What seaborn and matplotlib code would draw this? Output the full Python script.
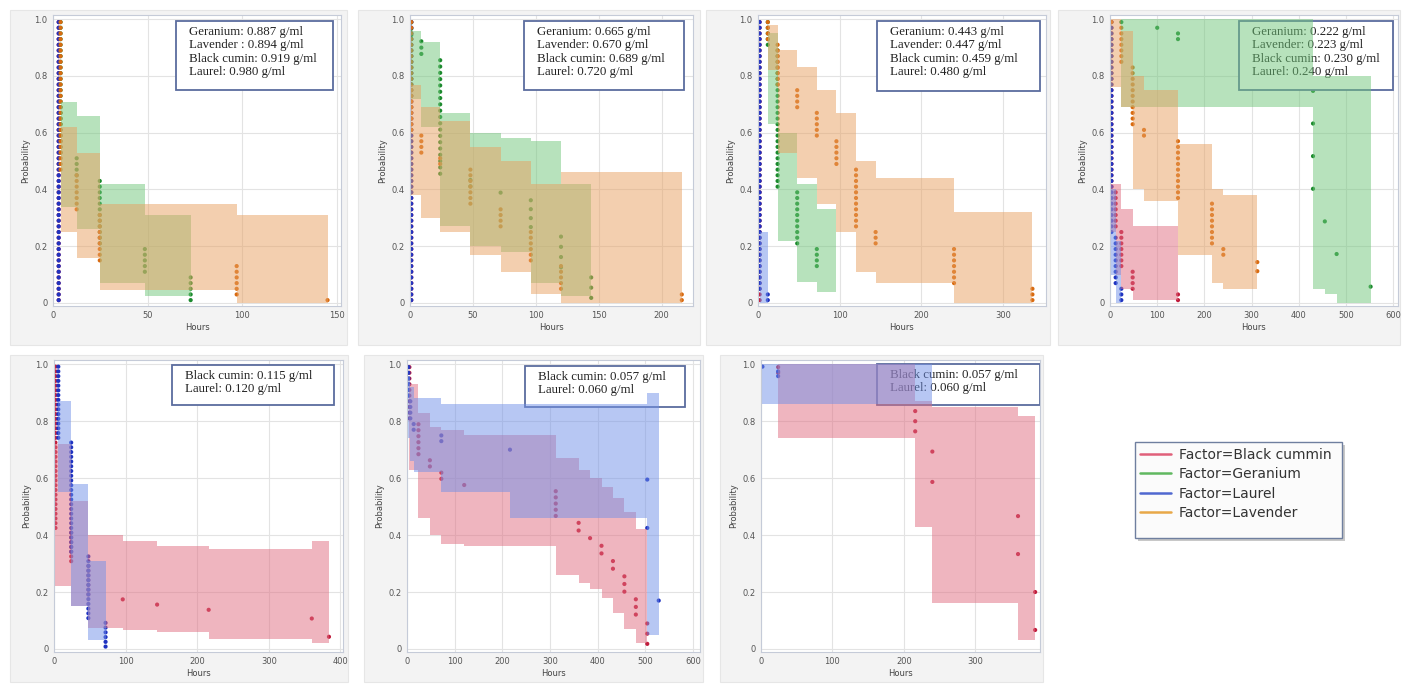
import numpy as np
import pandas as pd
import matplotlib
matplotlib.use("Agg")
import matplotlib.pyplot as plt
import seaborn as sns
from matplotlib.patches import Rectangle
from matplotlib.lines import Line2D

W, H = 1402, 685

FACTORS = ["Black cummin", "Geranium", "Laurel", "Lavender"]
DOT_COLORS = {"Black cummin": "#c01c3c", "Geranium": "#1c8a2e", "Laurel": "#1f33c0", "Lavender": "#d86a10"}
BAND_COLORS = {"Black cummin": "#e06c80", "Geranium": "#70c67a", "Laurel": "#7090e8", "Lavender": "#e8a060"}
LEGEND_COLORS = {"Black cummin": "#e0607a", "Geranium": "#60b860", "Laurel": "#5068d0", "Lavender": "#e8a848"}

# ---- panel 1 (0.887 - 0.980 g/ml) ----
p1_bc_t, p1_bc_risk, p1_bc_died, p1_bc_lo, p1_bc_hi = [3], [50], [50], [0], [0]
p1_lau_t, p1_lau_risk, p1_lau_died, p1_lau_lo, p1_lau_hi = [3], [50], [50], [0], [0]
p1_lav_t = [4, 12.5, 24.7, 97, 145]
p1_lav_risk = [50, 23, 16, 7, 1]
p1_lav_died = [27, 7, 9, 6, 1]
p1_lav_lo = [0.25, 0.16, 0.045, 0.0, 0]
p1_lav_hi = [0.62, 0.53, 0.35, 0.31, 0]
p1_ger_t = [4, 12.5, 24.7, 48.5, 72.7]
p1_ger_risk = [50, 26, 22, 10, 5]
p1_ger_died = [24, 4, 12, 5, 5]
p1_ger_lo = [0.34, 0.26, 0.07, 0.025, 0]
p1_ger_hi = [0.71, 0.66, 0.42, 0.31, 0]

# ---- panel 2 (0.665 - 0.720 g/ml) ----
p2_bc_t, p2_bc_risk, p2_bc_died, p2_bc_lo, p2_bc_hi = [1], [50], [50], [0], [0]
p2_lau_t, p2_lau_risk, p2_lau_died, p2_lau_lo, p2_lau_hi = [1], [50], [50], [0], [0]
p2_lav_t = [1, 9, 24, 48, 72, 96, 120, 216]
p2_lav_risk = [50, 30, 26, 24, 17, 13, 7, 2]
p2_lav_died = [20, 4, 2, 7, 4, 6, 5, 2]
p2_lav_lo = [0.38, 0.30, 0.25, 0.17, 0.11, 0.03, 0.0, 0]
p2_lav_hi = [0.77, 0.69, 0.64, 0.55, 0.50, 0.42, 0.46, 0]
p2_ger_t = [1, 9, 24, 48, 72, 96, 120, 144]
p2_ger_risk = [45, 42, 39, 20, 18, 12, 7, 3]
p2_ger_died = [3, 3, 19, 2, 1, 4, 4, 3]
p2_ger_lo = [0.72, 0.62, 0.27, 0.20, 0.18, 0.07, 0.025, 0]
p2_ger_hi = [0.96, 0.92, 0.67, 0.60, 0.58, 0.57, 0.42, 0]

# ---- panel 3 (0.443 - 0.480 g/ml) ----
p3_bc_t, p3_bc_risk, p3_bc_died, p3_bc_lo, p3_bc_hi = [2], [50], [50], [0], [0]
p3_lau_t, p3_lau_risk, p3_lau_died = [2, 12], [50, 2], [48, 2]
p3_lau_lo, p3_lau_hi = [0.0, 0], [0.25, 0]
p3_lav_t = [12, 24, 48, 72, 96, 120, 144, 240, 336]
p3_lav_risk = [50, 46, 38, 34, 29, 24, 13, 10, 3]
p3_lav_died = [4, 8, 4, 5, 5, 11, 3, 7, 3]
p3_lav_lo = [0.82, 0.53, 0.44, 0.35, 0.25, 0.11, 0.07, 0.0, 0]
p3_lav_hi = [0.98, 0.89, 0.83, 0.75, 0.67, 0.50, 0.44, 0.32, 0]
p3_ger_t = [12, 24, 48, 72]
p3_ger_risk = [50, 45, 20, 10]
p3_ger_died = [5, 25, 10, 4]
p3_ger_lo = [0.63, 0.22, 0.075, 0.04]
p3_ger_hi = [0.95, 0.60, 0.42, 0.33]
p3_ger_end = 96

# ---- panel 4 (0.222 - 0.240 g/ml) ----
p4_lau_t, p4_lau_risk, p4_lau_died = [3, 12, 24], [50, 12, 3], [38, 9, 3]
p4_lau_lo, p4_lau_hi = [0.10, 0.0, 0], [0.40, 0.22, 0]
p4_bc_t = [3, 12, 24, 48, 144]
p4_bc_risk = [50, 20, 13, 6, 2]
p4_bc_died = [30, 7, 7, 4, 2]
p4_bc_lo = [0.25, 0.10, 0.05, 0.01, 0]
p4_bc_hi = [0.42, 0.42, 0.33, 0.27, 0]
p4_lav_t = [3, 24, 48, 72, 144, 216, 240, 312]
p4_lav_risk = [50, 49, 42, 31, 29, 18, 10, 5]
p4_lav_died = [1, 7, 11, 2, 11, 8, 2, 2]
p4_lav_lo = [0.76, 0.69, 0.40, 0.36, 0.17, 0.07, 0.05, 0]
p4_lav_hi = [1.0, 0.96, 0.80, 0.75, 0.56, 0.40, 0.38, 0]
p4_lav_end = 312
p4_ger_t = [24, 100, 144, 430, 455, 480, 552]
p4_ger_risk = [50, 49, 48, 8, 3, 2, 1]
p4_ger_died = [1, 1, 2, 5, 1, 1, 1]
p4_ger_lo = [0.69, 0.69, 0.69, 0.05, 0.03, 0.0, 0]
p4_ger_hi = [1.0, 1.0, 1.0, 0.80, 0.80, 0.80, 0]

# ---- panel 5 (0.115 - 0.120 g/ml) ----
p5_lau_t = [6, 24, 48, 72]
p5_lau_risk = [60, 44, 20, 6]
p5_lau_died = [16, 24, 14, 6]
p5_lau_lo = [0.55, 0.15, 0.03, 0]
p5_lau_hi = [0.87, 0.58, 0.31, 0]
p5_bc_t = [2, 24, 48, 96, 144, 216, 360, 384]
p5_bc_risk = [60, 25, 18, 10, 9, 8, 3, 1]
p5_bc_died = [35, 7, 7, 1, 1, 1, 1, 1]
p5_bc_lo = [0.22, 0.15, 0.075, 0.065, 0.06, 0.035, 0.02, 0]
p5_bc_hi = [0.72, 0.52, 0.40, 0.38, 0.36, 0.35, 0.38, 0]

# ---- panel 6 (0.057 - 0.060 g/ml) ----
p6_lau_t = [3, 7, 14, 72, 216, 504, 528]
p6_lau_risk = [50, 44, 40, 38, 18, 4, 1]
p6_lau_died = [6, 4, 2, 2, 1, 2, 1]
p6_lau_lo = [0.74, 0.66, 0.62, 0.55, 0.46, 0.05, 0]
p6_lau_hi = [0.96, 0.92, 0.88, 0.86, 0.86, 0.90, 0]
p6_bc_t = [5, 24, 48, 72, 120, 312, 360, 384, 408, 432, 456, 480, 504]
p6_bc_risk = [50, 38, 31, 29, 27, 26, 17, 15, 14, 12, 10, 7, 3]
p6_bc_died = [10, 6, 2, 2, 1, 5, 2, 1, 2, 2, 3, 3, 3]
p6_bc_lo = [0.63, 0.46, 0.40, 0.37, 0.36, 0.26, 0.23, 0.21, 0.18, 0.125, 0.07, 0.02, 0]
p6_bc_hi = [0.93, 0.83, 0.78, 0.77, 0.75, 0.67, 0.63, 0.60, 0.57, 0.53, 0.48, 0.42, 0]

# ---- panel 7 (0.057 - 0.060 g/ml) ----
p7_lau_t, p7_lau_risk, p7_lau_died = [2, 24], [60, 59], [1, 2]
p7_lau_lo, p7_lau_hi = [0.86, 0.86], [1.0, 1.0]
p7_lau_end = 240
p7_bc_t = [24, 216, 240, 360, 384]
p7_bc_risk = [50, 27, 7, 4, 2]
p7_bc_died = [2, 6, 2, 2, 2]
p7_bc_lo = [0.74, 0.43, 0.16, 0.03, 0]
p7_bc_hi = [1.0, 0.87, 0.85, 0.82, 0]

BOX_TEXTS = [
    "Geranium: 0.887 g/ml\nLavender : 0.894 g/ml\nBlack cumin: 0.919 g/ml\nLaurel: 0.980 g/ml",
    "Geranium: 0.665 g/ml\nLavender: 0.670 g/ml\nBlack cumin: 0.689 g/ml\nLaurel: 0.720 g/ml",
    "Geranium: 0.443 g/ml\nLavender: 0.447 g/ml\nBlack cumin: 0.459 g/ml\nLaurel: 0.480 g/ml",
    "Geranium: 0.222 g/ml\nLavender: 0.223 g/ml\nBlack cumin: 0.230 g/ml\nLaurel: 0.240 g/ml",
    "Black cumin: 0.115 g/ml\nLaurel: 0.120 g/ml",
    "Black cumin: 0.057 g/ml\nLaurel: 0.060 g/ml",
    "Black cumin: 0.057 g/ml\nLaurel: 0.060 g/ml",
]

X_MAX = [152.1, 224.9, 352.6, 610, 403.6, 614.6, 390.8]
X_TICKS = [[0, 50, 100, 150], [0, 50, 100, 150, 200], [0, 100, 200, 300],
           [0, 100, 200, 300, 400, 500, 600], [0, 100, 200, 300, 400],
           [0, 100, 200, 300, 400, 500, 600], [0, 100, 200, 300]]


def series(name, t, risk, died, lo, hi, end=None):
    return dict(name=name, t=t, risk=risk, died=died, lo=lo, hi=hi,
                end=t[-1] if end is None else end)


PANEL_SERIES = [
    [series("Black cummin", p1_bc_t, p1_bc_risk, p1_bc_died, p1_bc_lo, p1_bc_hi),
     series("Geranium", p1_ger_t, p1_ger_risk, p1_ger_died, p1_ger_lo, p1_ger_hi),
     series("Laurel", p1_lau_t, p1_lau_risk, p1_lau_died, p1_lau_lo, p1_lau_hi),
     series("Lavender", p1_lav_t, p1_lav_risk, p1_lav_died, p1_lav_lo, p1_lav_hi)],
    [series("Black cummin", p2_bc_t, p2_bc_risk, p2_bc_died, p2_bc_lo, p2_bc_hi),
     series("Geranium", p2_ger_t, p2_ger_risk, p2_ger_died, p2_ger_lo, p2_ger_hi),
     series("Laurel", p2_lau_t, p2_lau_risk, p2_lau_died, p2_lau_lo, p2_lau_hi),
     series("Lavender", p2_lav_t, p2_lav_risk, p2_lav_died, p2_lav_lo, p2_lav_hi)],
    [series("Black cummin", p3_bc_t, p3_bc_risk, p3_bc_died, p3_bc_lo, p3_bc_hi),
     series("Geranium", p3_ger_t, p3_ger_risk, p3_ger_died, p3_ger_lo, p3_ger_hi, p3_ger_end),
     series("Laurel", p3_lau_t, p3_lau_risk, p3_lau_died, p3_lau_lo, p3_lau_hi),
     series("Lavender", p3_lav_t, p3_lav_risk, p3_lav_died, p3_lav_lo, p3_lav_hi)],
    [series("Black cummin", p4_bc_t, p4_bc_risk, p4_bc_died, p4_bc_lo, p4_bc_hi),
     series("Geranium", p4_ger_t, p4_ger_risk, p4_ger_died, p4_ger_lo, p4_ger_hi),
     series("Laurel", p4_lau_t, p4_lau_risk, p4_lau_died, p4_lau_lo, p4_lau_hi),
     series("Lavender", p4_lav_t, p4_lav_risk, p4_lav_died, p4_lav_lo, p4_lav_hi, p4_lav_end)],
    [series("Black cummin", p5_bc_t, p5_bc_risk, p5_bc_died, p5_bc_lo, p5_bc_hi),
     series("Laurel", p5_lau_t, p5_lau_risk, p5_lau_died, p5_lau_lo, p5_lau_hi)],
    [series("Black cummin", p6_bc_t, p6_bc_risk, p6_bc_died, p6_bc_lo, p6_bc_hi),
     series("Laurel", p6_lau_t, p6_lau_risk, p6_lau_died, p6_lau_lo, p6_lau_hi)],
    [series("Black cummin", p7_bc_t, p7_bc_risk, p7_bc_died, p7_bc_lo, p7_bc_hi),
     series("Laurel", p7_lau_t, p7_lau_risk, p7_lau_died, p7_lau_lo, p7_lau_hi, p7_lau_end)],
]

# layout in pixels: frame box, axes left/right, annotation box
FRAMES = [(10, 10, 347, 345), (358, 10, 700, 345), (706, 10, 1050, 345), (1058, 10, 1400, 345),
          (10, 355, 348, 682), (364, 355, 703, 682), (720, 355, 1043, 682)]
AX_LR = [(53, 341), (410, 693), (758, 1046), (1110, 1398), (54, 343), (407, 700), (761, 1040)]
ROW_TB = [(15.0, 305.8), (360.0, 651.8)]
BOXES = [(176, 21, 333, 90), (524, 21, 684, 90), (877, 21, 1040, 91), (1239, 21, 1393, 90),
         (172, 365, 334, 405), (525, 366, 685, 407), (877, 364, 1040, 405)]


def km_dots(t, risk, died):
    # Kaplan-Meier: one dot per death, at the middle of its drop
    s, xs, ys = 1.0, [], []
    for ti, n, d in zip(t, risk, died):
        step = s / n
        for k in range(d):
            xs.append(ti)
            ys.append(s - step * (k + 0.5))
        s -= step * d
    return xs, ys


def fig_rect(x0, y0, x1, y1, **kw):
    return Rectangle((x0 / W, 1 - y1 / H), (x1 - x0) / W, (y1 - y0) / H,
                     transform=fig.transFigure, **kw)


sns.set_style("whitegrid")
fig = plt.figure(figsize=(W / 100, H / 100), dpi=100)
fig.patch.set_facecolor("white")

for i, sers in enumerate(PANEL_SERIES):
    fig.patches.append(fig_rect(*FRAMES[i], facecolor="#f3f3f3", edgecolor="#e6e6e6",
                                lw=0.8, zorder=-5))
    left, right = AX_LR[i]
    top, bottom = ROW_TB[0] if i < 4 else ROW_TB[1]
    ax = fig.add_axes([left / W, 1 - bottom / H, (right - left) / W, (bottom - top) / H])
    ax.set_facecolor("white")

    rows = []
    for name in FACTORS:
        for s in sers:
            if s["name"] != name:
                continue
            xs, ys = km_dots(s["t"], s["risk"], s["died"])
            rows += [(x, y, name) for x, y in zip(xs, ys)]
    df = pd.DataFrame(rows, columns=["Hours", "Probability", "Factor"])
    sns.scatterplot(data=df, x="Hours", y="Probability", hue="Factor", palette=DOT_COLORS,
                    s=9, linewidth=0, legend=False, ax=ax, zorder=1.2)

    # annotation box sits over the dots but under the confidence bands
    bx0, by0, bx1, by1 = BOXES[i]
    ax.add_artist(fig_rect(bx0, by0, bx1, by1, facecolor="white",
                           edgecolor="#5b6c9e", lw=1.3, zorder=1.5))
    ax.text((bx0 + 13) / W, 1 - (by0 + 5) / H, BOX_TEXTS[i], transform=fig.transFigure,
            ha="left", va="top", fontsize=9.3, family="Liberation Serif",
            color="#222222", linespacing=1.15, zorder=1.6)

    for s in sers:
        edges = list(s["t"]) + [s["end"]]
        ax.fill_between(edges, s["lo"] + [s["lo"][-1]], s["hi"] + [s["hi"][-1]], step="post",
                        color=BAND_COLORS[s["name"]], alpha=0.5, lw=0, zorder=2)

    ax.set_xlim(0, X_MAX[i])
    ax.set_ylim(-0.01, 1.015)
    ax.set_xticks(X_TICKS[i])
    ax.set_yticks([0, 0.2, 0.4, 0.6, 0.8, 1.0])
    ax.set_yticklabels(["0", "0.2", "0.4", "0.6", "0.8", "1.0"])
    ax.tick_params(labelsize=6, colors="#555555", length=2, pad=2)
    ax.grid(True, color="#e3e3e3", lw=0.8)
    ax.set_axisbelow(True)
    for sp in ax.spines.values():
        sp.set_color("#c5cbd8")
        sp.set_linewidth(0.8)
    ax.set_xlabel("Hours", fontsize=6, color="#444444", labelpad=2)
    ax.set_ylabel("Probability", fontsize=6, color="#444444", labelpad=3)

# legend panel with its own frame and soft shadow
fig.patches.append(fig_rect(1138, 445, 1345, 541, facecolor="#c8c8c8", edgecolor="none", zorder=4))
fig.patches.append(fig_rect(1135, 442, 1342, 538, facecolor="#fbfbfb", edgecolor="#6f7f9f",
                            lw=1.0, zorder=4.1))
handles = [Line2D([], [], color=LEGEND_COLORS[f], lw=1.8) for f in FACTORS]
labels = ["Factor=" + f for f in FACTORS]
leg = fig.legend(handles, labels, loc="upper left", bbox_to_anchor=(1140 / W, 1 - 448 / H),
                 fontsize=10, frameon=False, handlelength=2.2, handletextpad=0.6,
                 labelspacing=0.38, borderpad=0.0, borderaxespad=0)
leg.set_zorder(5)
for txt in leg.get_texts():
    txt.set_color("#333333")

fig.savefig("out.png", dpi=100)
